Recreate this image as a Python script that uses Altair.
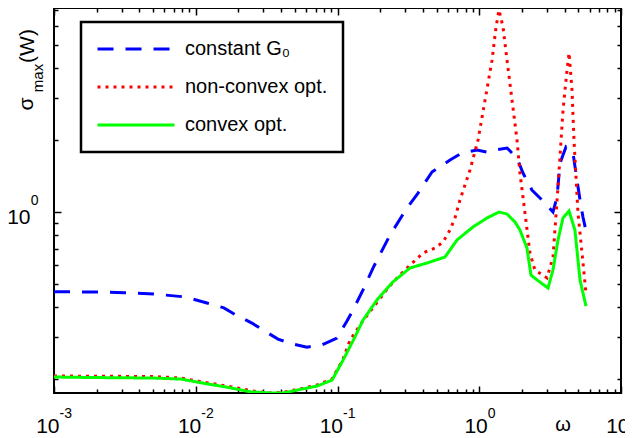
import altair as alt
import pandas as pd

FONT = "Liberation Sans"

series_names = ["constant G\u2080", "non-convex opt.", "convex opt."]
series_colors = ["#0000ff", "#ff0000", "#00ff00"]
series_dashes = [[16, 12], [3, 5], [1, 0]]

# constant G0
g0_w = [0.001, 0.00191, 0.00312, 0.00507, 0.00853, 0.0120, 0.0158, 0.0192, 0.0249, 0.0298,
        0.0380, 0.0478, 0.0609, 0.0778, 0.0991, 0.1167, 0.1286, 0.1514, 0.178, 0.2346,
        0.309, 0.370, 0.464, 0.622, 0.755, 0.964, 1.135, 1.291, 1.570, 1.847,
        2.035, 2.353, 2.771, 3.313, 3.536, 3.713, 4.09, 4.585, 4.89, 5.14, 5.39, 5.75]
g0_s = [0.464, 0.463, 0.460, 0.454, 0.441, 0.416, 0.397, 0.371, 0.343, 0.321,
        0.294, 0.281, 0.272, 0.278, 0.297, 0.350, 0.389, 0.472, 0.583, 0.801,
        1.039, 1.201, 1.470, 1.650, 1.766, 1.817, 1.782, 1.817, 1.853, 1.683,
        1.456, 1.236, 1.123, 1.0, 1.155, 1.60, 1.87, 1.766, 1.361, 1.123, 0.953, 0.801]

# non-convex opt.
nc_w = [0.001, 0.00507, 0.00787, 0.01143, 0.0166, 0.0258, 0.0334, 0.0413, 0.0571, 0.0717,
        0.0915, 0.1094, 0.1225, 0.149, 0.184, 0.227, 0.263, 0.309, 0.401, 0.488,
        0.555, 0.622, 0.674, 0.731, 0.793, 0.860, 0.980, 1.099, 1.231, 1.313,
        1.378, 1.471, 1.570, 1.703, 1.847, 1.937, 2.102, 2.278, 2.470, 3.006,
        3.313, 3.594, 3.899, 4.163, 4.300, 4.512, 4.66, 4.97, 5.31, 5.66]
nc_s = [0.206, 0.205, 0.202, 0.194, 0.187, 0.178, 0.175, 0.176, 0.183, 0.189,
        0.200, 0.242, 0.291, 0.346, 0.408, 0.481, 0.530, 0.583, 0.674, 0.707,
        0.749, 0.841, 0.944, 1.123, 1.297, 1.499, 2.00, 2.94, 4.32, 5.94,
        7.0, 5.94, 4.32, 2.94, 2.00, 1.456, 0.990, 0.674, 0.572, 0.530,
        0.648, 1.273, 2.67, 3.93, 4.63, 3.24, 2.00, 0.990, 0.674, 0.458]

# convex opt.
cv_w = [0.001, 0.00191, 0.00507, 0.00787, 0.01143, 0.0166, 0.0241, 0.0334, 0.0413, 0.0571,
        0.0717, 0.0915, 0.1094, 0.1286, 0.1514, 0.190, 0.2463, 0.324, 0.428, 0.573,
        0.697, 0.903, 1.135, 1.378, 1.570, 1.788, 1.937, 2.171, 2.316, 2.553,
        3.055, 3.313, 3.594, 3.899, 4.300, 4.73, 5.14, 5.66]
cv_s = [0.204, 0.203, 0.202, 0.200, 0.192, 0.185, 0.177, 0.175, 0.175, 0.182,
        0.187, 0.198, 0.240, 0.289, 0.353, 0.429, 0.510, 0.583, 0.612, 0.648,
        0.764, 0.866, 0.944, 1.0, 0.981, 0.908, 0.841, 0.707, 0.545, 0.520,
        0.481, 0.572, 0.764, 0.944, 1.010, 0.841, 0.520, 0.404]

x_domain = [0.001, 10]
y_domain = [0.1749, 7.14]
x_major = [0.001, 0.01, 0.1, 1, 10]
x_minor = [k * d for d in [0.001, 0.01, 0.1, 1] for k in range(2, 10)]
y_major = [1]
y_minor = [0.2, 0.3, 0.4, 0.5, 0.6, 0.7, 0.8, 0.9, 2, 3, 4, 5, 6, 7]

rows = []
for name, ws, ss in zip(series_names, [g0_w, nc_w, cv_w], [g0_s, nc_s, cv_s]):
    for i, (w, s) in enumerate(zip(ws, ss)):
        rows.append({"series": name, "w": w, "s": s, "i": i})
df = pd.DataFrame(rows)

xs = alt.Scale(type="log", domain=x_domain, nice=False)
ys = alt.Scale(type="log", domain=y_domain, nice=False)

common = dict(grid=False, domain=False, title=None, labelFont=FONT, labelColor="black",
              tickColor="black", tickWidth=1.5, labelFlush=False, labelOverlap=False,
              labelBound=False)

# bottom axes
ax_b_major = alt.Axis(orient="bottom", values=x_major, labelExpr="'10'", tickSize=7, offset=-7,
                      labelFontSize=21, labelAlign="right", labelBaseline="alphabetic",
                      labelPadding=39,
                      labelOffset={"condition": {"test": "datum.value < 1", "value": 5}, "value": 8},
                      **common)
ax_b_exp = alt.Axis(orient="bottom", values=x_major,
                    labelExpr="toString(round(log(datum.value)/LN10))", ticks=False, tickSize=0,
                    offset=0, labelFontSize=14, labelAlign="left", labelBaseline="alphabetic",
                    labelPadding=24,
                    labelOffset={"condition": {"test": "datum.value < 1", "value": 5}, "value": 8},
                    **common)
ax_b_minor = alt.Axis(orient="bottom", values=x_minor, labels=False, tickSize=4, offset=-4, **common)
ax_t_major = alt.Axis(orient="top", values=x_major, labels=False, tickSize=7, offset=-7, **common)
ax_t_minor = alt.Axis(orient="top", values=x_minor, labels=False, tickSize=4, offset=-4, **common)

# left / right axes
ax_l_major = alt.Axis(orient="left", values=y_major, labelExpr="'10'", tickSize=7, offset=-7,
                      labelFontSize=21, labelAlign="right", labelBaseline="middle",
                      labelPadding=24, labelOffset=5, **common)
ax_l_exp = alt.Axis(orient="left", values=y_major, labelExpr="'0'", ticks=False, tickSize=0,
                    offset=0, labelFontSize=14, labelAlign="right", labelBaseline="middle",
                    labelPadding=16, labelOffset=-12, **common)
ax_l_minor = alt.Axis(orient="left", values=y_minor, labels=False, tickSize=4, offset=-4, **common)
ax_r_major = alt.Axis(orient="right", values=y_major, labels=False, tickSize=7, offset=-7, **common)
ax_r_minor = alt.Axis(orient="right", values=y_minor, labels=False, tickSize=4, offset=-4, **common)

legend = alt.Legend(title=None, orient="none", legendX=27, legendY=14, symbolType="stroke",
                    symbolSize=5929, symbolStrokeWidth=3, labelFontSize=20, labelFont=FONT,
                    labelColor="black", padding=15, rowPadding=14, clipHeight=24,
                    strokeColor="black", fillColor="white", labelOffset=9, cornerRadius=0)

lines = alt.Chart(df).mark_line(strokeWidth=3, clip=True, strokeCap="butt").encode(
    x=alt.X("w:Q", scale=xs, axis=ax_b_major),
    y=alt.Y("s:Q", scale=ys, axis=ax_l_major),
    color=alt.Color("series:N", scale=alt.Scale(domain=series_names, range=series_colors),
                    legend=legend),
    strokeDash=alt.StrokeDash("series:N", scale=alt.Scale(domain=series_names, range=series_dashes),
                              legend=legend),
    order=alt.Order("i:Q"),
)


def ghost(ax_x, ax_y):
    return alt.Chart(df).mark_line(opacity=0).encode(
        x=alt.X("w:Q", scale=xs, axis=ax_x),
        y=alt.Y("s:Q", scale=ys, axis=ax_y),
        detail="series:N",
    )


g1 = ghost(ax_b_exp, ax_l_exp)
g2 = ghost(ax_b_minor, ax_l_minor)
g3 = ghost(ax_t_major, ax_r_major)
g4 = ghost(ax_t_minor, ax_r_minor)


def label(txt, x, y, size, angle=0):
    return alt.Chart(pd.DataFrame({"t": [txt]})).mark_text(
        font=FONT, fontSize=size, color="black", angle=angle, align="center", baseline="middle"
    ).encode(text="t:N", x=alt.value(x), y=alt.value(y))


t_sigma = label("\u03c3", -27, 96, 21, 270)
t_max = label("max", -16, 70, 15, 270)
t_w = label("(W)", -26, 38, 21, 270)
t_omega = label("\u03c9", 509, 417, 20)

chart = alt.layer(lines, g1, g2, g3, g4, t_sigma, t_max, t_w, t_omega).resolve_axis(
    x="independent", y="independent"
).properties(
    width=567, height=385,
    autosize=alt.AutoSizeParams(type="none"),
    padding={"left": 46, "top": 0, "right": 4, "bottom": 45},
).configure_view(stroke="black", strokeWidth=2).configure_legend(strokeWidth=2.5)

chart.save("out.html", embed_options={"renderer": "svg", "actions": False})
